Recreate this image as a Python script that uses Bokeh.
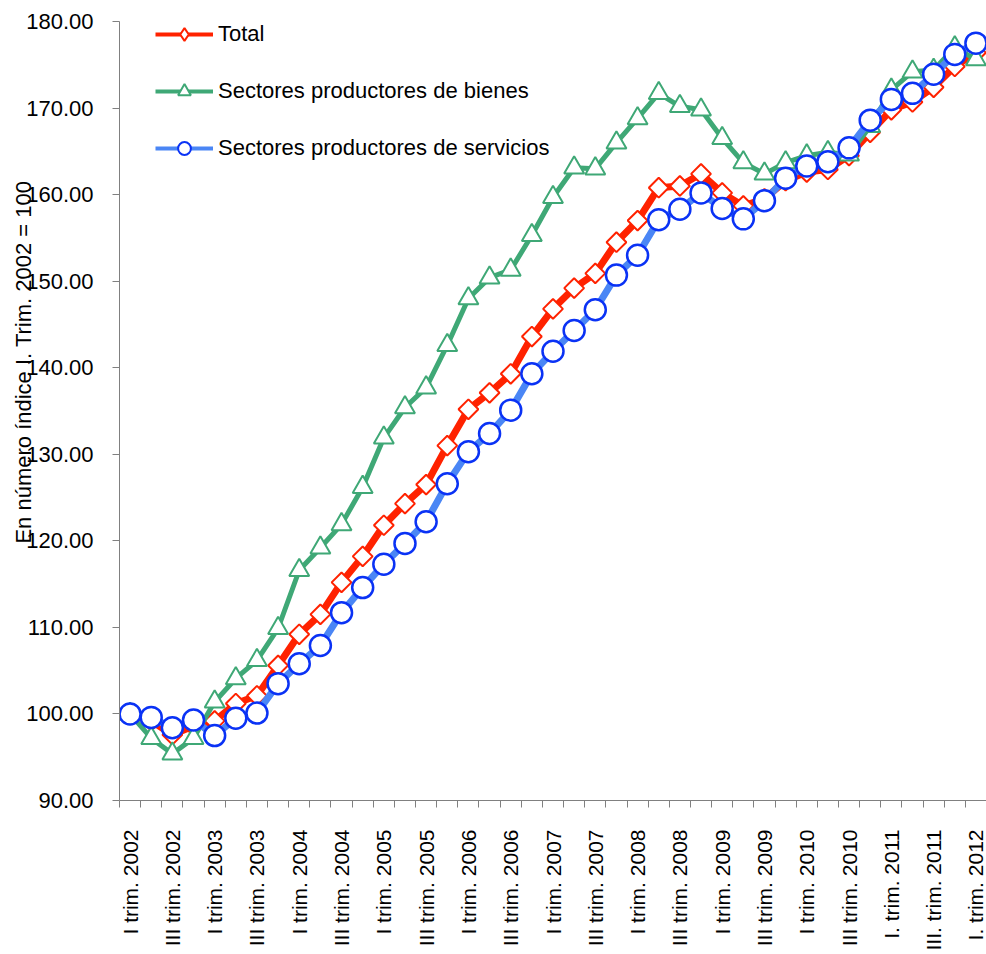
import math
from bokeh.plotting import figure
from bokeh.models import (FixedTicker, Legend, LegendItem,
                          NumeralTickFormatter, Range1d)
from bokeh.embed import file_html
from bokeh.resources import INLINE

# ---------------- data ----------------
tick_labels = [
    "I trim. 2002", "III trim. 2002", "I trim. 2003", "III trim. 2003",
    "I trim. 2004", "III trim. 2004", "I trim. 2005", "III trim. 2005",
    "I trim. 2006", "III trim. 2006", "I trim. 2007", "III trim. 2007",
    "I trim. 2008", "III trim. 2008", "I trim. 2009", "III trim. 2009",
    "I trim. 2010", "III trim. 2010", "I. trim. 2011", "III. trim. 2011",
    "I. trim. 2012",
]

total = [100.0, 99.2, 97.6, 98.6, 99.2, 101.2, 102.1, 105.6, 109.2, 111.5,
         115.2, 118.2, 121.8, 124.3, 126.5, 131.0, 135.2, 137.1, 139.3, 143.6,
         146.8, 149.2, 150.9, 154.5, 157.0, 160.8, 161.0, 162.4, 160.2, 158.7,
         159.5, 161.6, 162.6, 162.9, 164.5, 167.2, 169.8, 170.7, 172.4, 174.8,
         176.4]

goods = [100.0, 97.2, 95.4, 97.2, 101.4, 104.1, 106.2, 109.9, 116.6, 119.2,
         121.9, 126.2, 131.9, 135.4, 137.7, 142.6, 148.0, 150.4, 151.3, 155.3,
         159.7, 163.1, 163.0, 166.0, 168.8, 171.7, 170.2, 169.8, 166.5, 163.7,
         162.4, 163.7, 164.5, 164.9, 164.6, 167.9, 172.1, 174.2, 174.4, 177.0,
         175.6]

services = [100.0, 99.6, 98.4, 99.3, 97.5, 99.5, 100.1, 103.5, 105.8, 107.9,
            111.7, 114.6, 117.3, 119.7, 122.2, 126.6, 130.3, 132.4, 135.1, 139.3,
            141.9, 144.3, 146.7, 150.7, 153.0, 157.1, 158.3, 160.2, 158.4, 157.2,
            159.3, 161.9, 163.3, 163.8, 165.4, 168.6, 171.0, 171.7, 173.9, 176.2,
            177.5]

series_names = ["Total", "Sectores productores de bienes",
                "Sectores productores de servicios"]
y_title = "En número índice I. Trim. 2002 = 100"
y_ticks = [90, 100, 110, 120, 130, 140, 150, 160, 170, 180]

# ---------------- styles ----------------
FONT = "Liberation Sans"
FS = "22px"
RED = "#FF2200"
GREEN = "#3FA876"
BLUE_LINE = "#4A86F5"
BLUE_MK = "#0A32F5"
AXIS = "#808080"

x = list(range(len(total)))

p = figure(width=986, height=954, output_backend="svg", toolbar_location=None,
           x_range=Range1d(-0.5, len(total) - 0.5), y_range=Range1d(90, 180),
           min_border_left=119, min_border_right=0, min_border_top=21,
           min_border_bottom=154)
p.outline_line_color = None
p.xgrid.visible = False
p.ygrid.visible = False
p.background_fill_color = "white"
p.border_fill_color = "white"

# series (drawn in series order, markers on top of their own line)
p.line(x, total, line_color=RED, line_width=7)
p.scatter(x, total, marker="square", angle=math.pi / 4, size=14,
          fill_color="white", line_color=RED, line_width=2)
p.line(x, goods, line_color=GREEN, line_width=5)
p.scatter(x, goods, marker="triangle", size=20,
          fill_color="white", line_color=GREEN, line_width=2)
p.line(x, services, line_color=BLUE_LINE, line_width=7)
p.scatter(x, services, marker="circle", size=21,
          fill_color="white", line_color=BLUE_MK, line_width=2.5)

# legend glyph renderers: same data, mapped to a hidden range (off the frame)
p.extra_y_ranges = {"legend_hidden": Range1d(1000, 1100)}
kw = dict(y_range_name="legend_hidden")
l1 = p.line(x, total, line_color=RED, line_width=4, **kw)
m1 = p.scatter(x, total, marker="diamond", fill_color="white",
               line_color=RED, line_width=2, **kw)
l2 = p.line(x, goods, line_color=GREEN, line_width=4, **kw)
m2 = p.scatter(x, goods, marker="triangle", fill_color="white",
               line_color=GREEN, line_width=2, **kw)
l3 = p.line(x, services, line_color=BLUE_LINE, line_width=4, **kw)
m3 = p.scatter(x, services, marker="circle", fill_color="white",
               line_color=BLUE_MK, line_width=2, **kw)

legend = Legend(items=[
    LegendItem(label=series_names[0], renderers=[l1, m1]),
    LegendItem(label=series_names[1], renderers=[l2, m2]),
    LegendItem(label=series_names[2], renderers=[l3, m3]),
], location=(36, 636), orientation="vertical", glyph_width=58, glyph_height=32,
    label_height=32, spacing=25, padding=0, margin=0, label_standoff=5,
    border_line_alpha=0, background_fill_alpha=0,
    label_text_font=FONT, label_text_font_size=FS, label_text_color="black")
p.add_layout(legend)

# x axis: ticks between categories, labels on every other category
xa = p.xaxis[0]
xa.ticker = FixedTicker(ticks=list(range(0, len(total), 2)),
                        minor_ticks=[i - 0.5 for i in range(len(total) + 1)])
xa.major_label_overrides = {i * 2: lab for i, lab in enumerate(tick_labels)}
xa.major_label_orientation = math.pi / 2
xa.major_tick_out = 0
xa.major_tick_in = 0
xa.minor_tick_out = 7
xa.minor_tick_in = 0
xa.major_label_standoff = 22
xa.axis_line_color = AXIS
xa.minor_tick_line_color = AXIS
xa.major_label_text_font = FONT
xa.major_label_text_font_size = "21px"
xa.major_label_text_color = "black"

# y axis
ya = p.yaxis[0]
ya.ticker = FixedTicker(ticks=y_ticks)
ya.formatter = NumeralTickFormatter(format="0.00")
ya.major_tick_out = 7
ya.major_tick_in = 0
ya.minor_tick_out = 0
ya.minor_tick_in = 0
ya.major_label_standoff = 19
ya.axis_line_color = AXIS
ya.major_tick_line_color = AXIS
ya.major_label_text_font = FONT
ya.major_label_text_font_size = FS
ya.major_label_text_color = "black"

# y-axis title overlapping the tick labels, as in the original; leading
# no-break spaces move the visible text up along the axis.
ya.axis_label = "\u00a0" * 16 + y_title
ya.axis_label_standoff = -13
ya.axis_label_text_font = FONT
ya.axis_label_text_font_size = FS
ya.axis_label_text_font_style = "normal"
ya.axis_label_text_color = "black"

open("out.html", "w").write(file_html(p, INLINE))
